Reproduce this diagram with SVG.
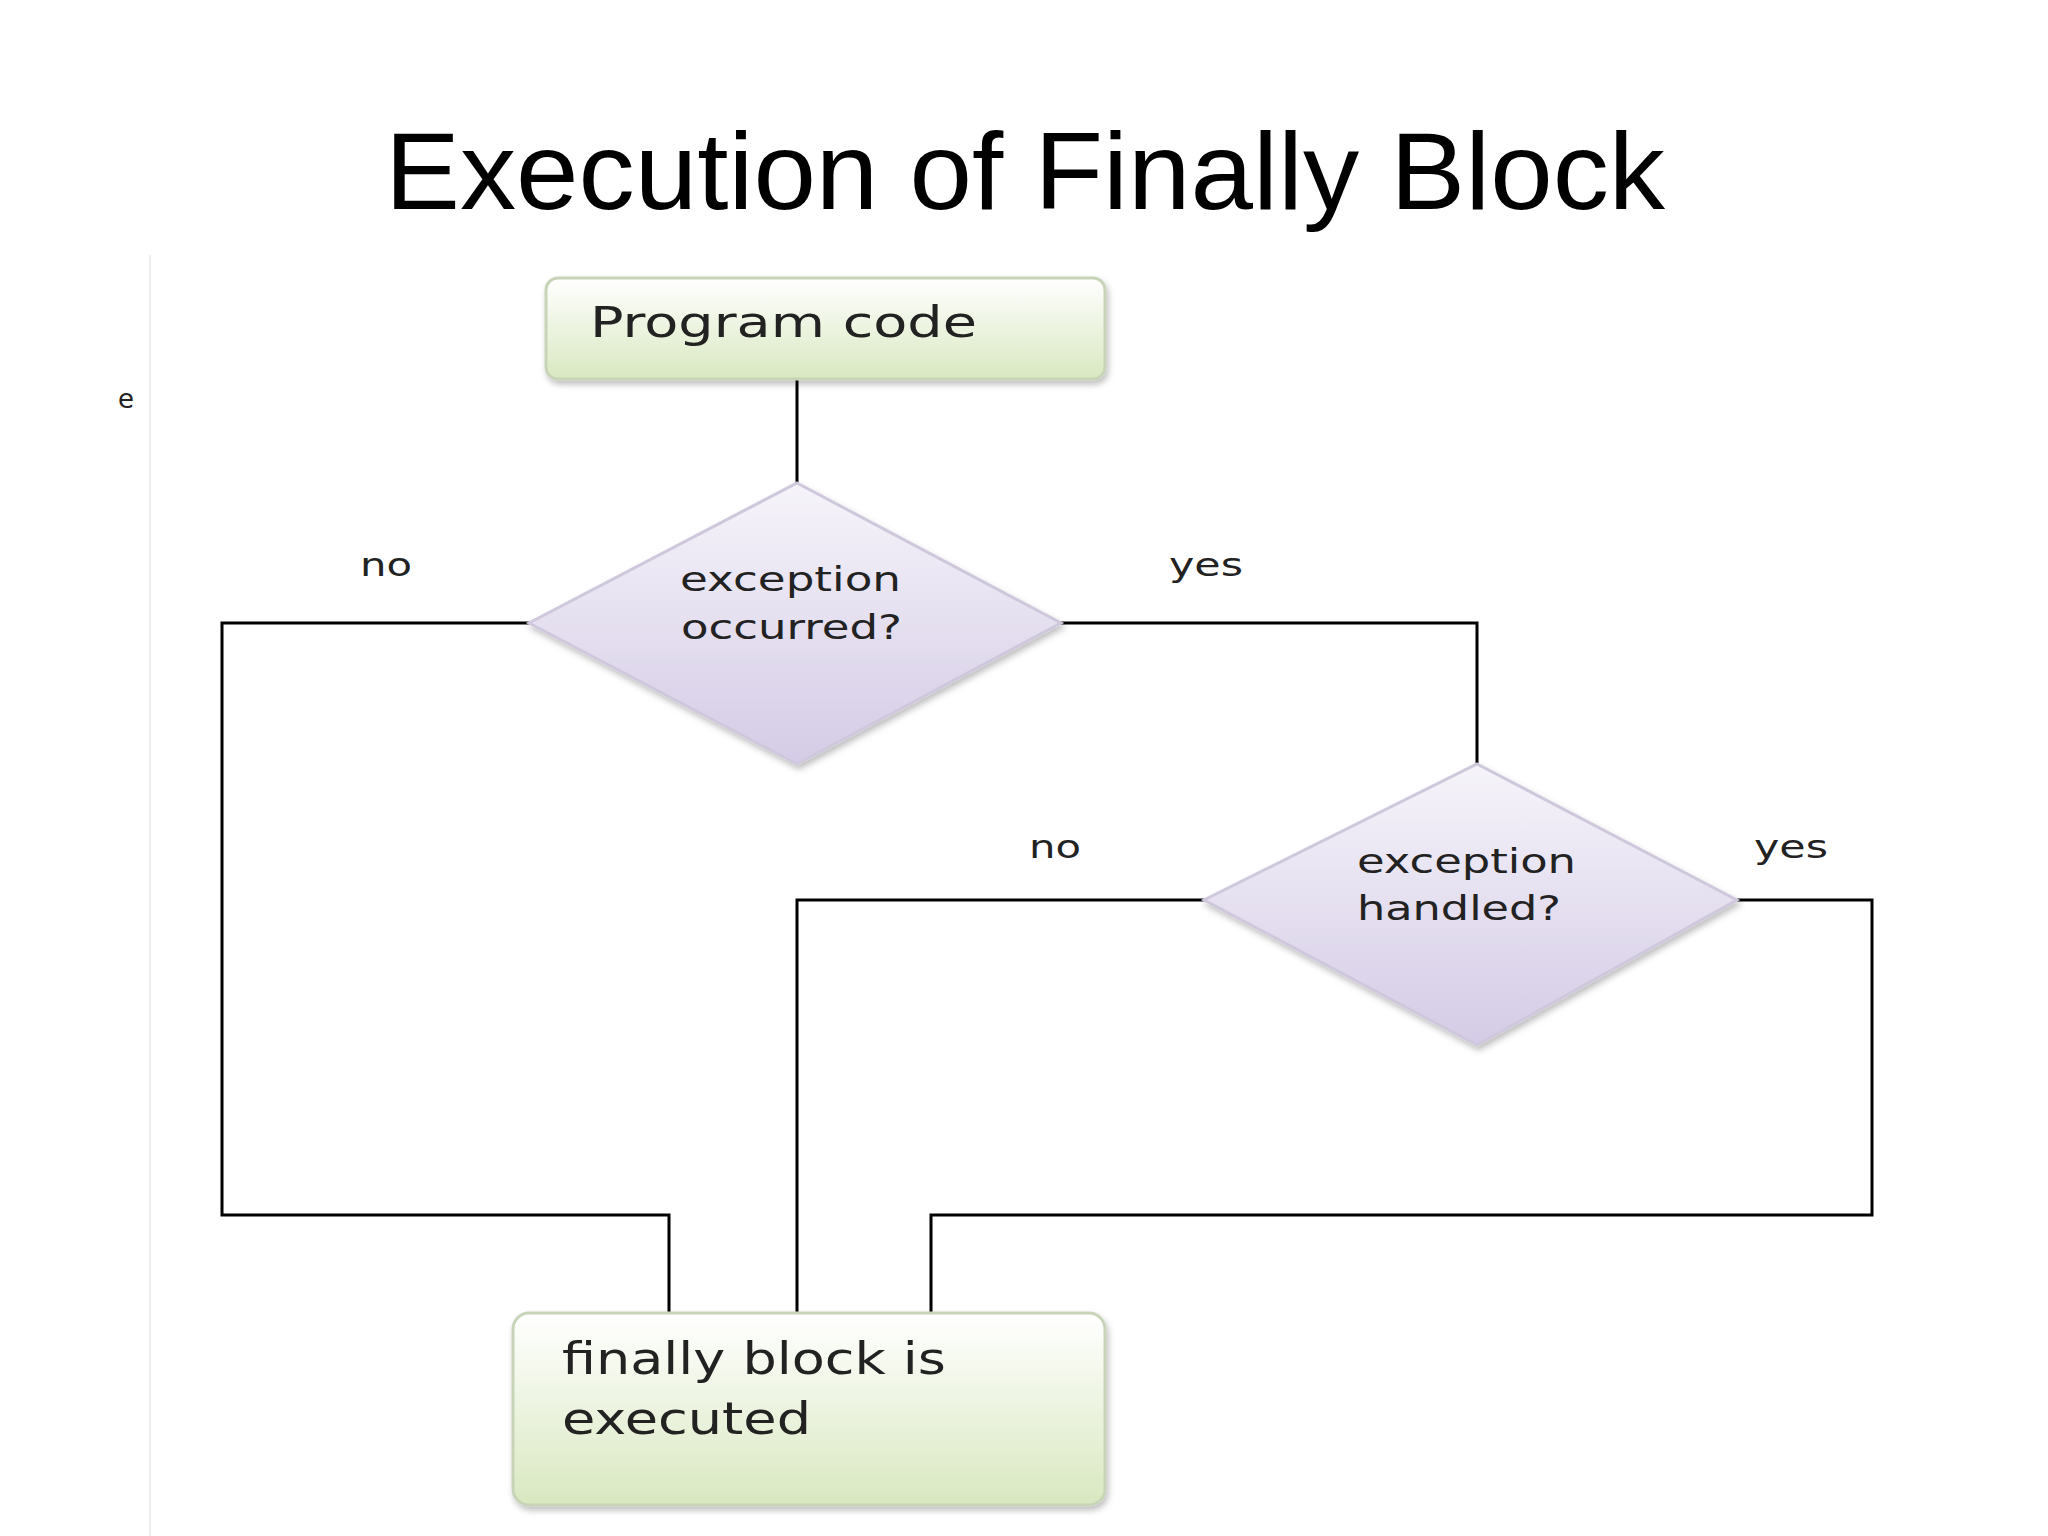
<svg xmlns="http://www.w3.org/2000/svg" width="2048" height="1536" viewBox="0 0 2048 1536">
<style>
.c{fill:none;stroke:#000;stroke-width:3}
.t{font-family:"DejaVu Sans","Liberation Sans",Arial,sans-serif;fill:#222}
.box{stroke:#c8d4b8;stroke-width:3}
.dia{stroke:#cfc8dc;stroke-width:3}
</style>
<defs>
<linearGradient id="g" x1="0" y1="0" x2="0" y2="1"><stop offset="0" stop-color="#ffffff"/><stop offset="1" stop-color="#d9e8c0"/></linearGradient>
<linearGradient id="p" x1="0" y1="0" x2="0" y2="1"><stop offset="0" stop-color="#f6f4fa"/><stop offset="1" stop-color="#d4cbe6"/></linearGradient>
<filter id="s"><feDropShadow dx="2" dy="4" stdDeviation="3" flood-color="#000" flood-opacity="0.25"/></filter>
</defs>
<rect width="2048" height="1536" fill="#fff"/>
<text x="1025" y="209" text-anchor="middle" font-family="Liberation Sans, Arial, sans-serif" font-size="110" textLength="1280" lengthAdjust="spacingAndGlyphs">Execution of Finally Block</text>
<line x1="150" y1="255" x2="150" y2="1536" stroke="#eee" stroke-width="2"/>
<text class="t" x="118" y="408" font-size="26" fill="#444">e</text>
<g id="connectors">
<polyline class="c" points="797,379 797,483"/>
<polyline class="c" points="529,623 222,623 222,1215 669,1215 669,1313"/>
<polyline class="c" points="1061,623 1477,623 1477,764"/>
<polyline class="c" points="1204,900 797,900 797,1313"/>
<polyline class="c" points="1737,900 1872,900 1872,1215 931,1215 931,1313"/>
</g>
<g id="program-code">
<rect class="box" x="546" y="278" width="559" height="101" rx="12" fill="url(#g)" filter="url(#s)"/>
<text class="t" x="590" y="337" font-size="42" textLength="387" lengthAdjust="spacingAndGlyphs">Program code</text>
</g>
<g id="exception-occurred">
<polygon class="dia" points="797,483 1061,623 797,764 529,623" fill="url(#p)" filter="url(#s)"/>
<text class="t" x="680" y="591" font-size="34" textLength="221" lengthAdjust="spacingAndGlyphs">exception</text>
<text class="t" x="681" y="639" font-size="34" textLength="221" lengthAdjust="spacingAndGlyphs">occurred?</text>
</g>
<g id="exception-handled">
<polygon class="dia" points="1477,764 1737,900 1477,1045 1204,900" fill="url(#p)" filter="url(#s)"/>
<text class="t" x="1357" y="873" font-size="34" textLength="219" lengthAdjust="spacingAndGlyphs">exception</text>
<text class="t" x="1357" y="920" font-size="34" textLength="204" lengthAdjust="spacingAndGlyphs">handled?</text>
</g>
<g id="finally-block">
<rect class="box" x="513" y="1313" width="592" height="192" rx="16" fill="url(#g)" filter="url(#s)"/>
<text class="t" x="562" y="1374" font-size="44" textLength="384" lengthAdjust="spacingAndGlyphs">finally block is</text>
<text class="t" x="562" y="1434" font-size="44" textLength="249" lengthAdjust="spacingAndGlyphs">executed</text>
</g>
<g id="labels">
<text class="t" x="360" y="576" font-size="32" textLength="52" lengthAdjust="spacingAndGlyphs">no</text>
<text class="t" x="1169" y="576" font-size="32" textLength="74" lengthAdjust="spacingAndGlyphs">yes</text>
<text class="t" x="1029" y="858" font-size="32" textLength="52" lengthAdjust="spacingAndGlyphs">no</text>
<text class="t" x="1754" y="858" font-size="32" textLength="74" lengthAdjust="spacingAndGlyphs">yes</text>
</g>
</svg>
